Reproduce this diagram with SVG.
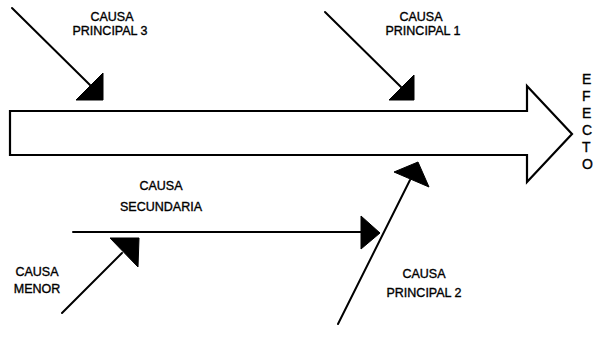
<svg xmlns="http://www.w3.org/2000/svg" width="597" height="339" viewBox="0 0 597 339">
<style>
.lbl{font-family:"Liberation Sans",Arial,sans-serif;font-size:12.5px;fill:#000;stroke:#000;stroke-width:0.35;text-anchor:middle}
.eff{font-family:"Liberation Sans",Arial,sans-serif;font-size:14px;fill:#000;stroke:#000;stroke-width:0.35}
.ln{stroke:#000;stroke-width:2;fill:none;stroke-linecap:round}
.hd{fill:#000;stroke:#000;stroke-width:1;stroke-linejoin:round}
</style>
<rect width="597" height="339" fill="#fff"/>
<g id="efecto">
<polygon points="10,111 527,111 527,86 572,134 527,182 527,155 10,155" fill="#fff" stroke="#000" stroke-width="2.2" stroke-linejoin="miter"/>
<text class="eff" x="582" y="84">E</text>
<text class="eff" x="582" y="101">F</text>
<text class="eff" x="582" y="118">E</text>
<text class="eff" x="582" y="135">C</text>
<text class="eff" x="582" y="152">T</text>
<text class="eff" x="582" y="169">O</text>
</g>
<g id="causa-principal-3">
<text class="lbl" x="112" y="21">CAUSA</text>
<text class="lbl" x="110" y="35">PRINCIPAL 3</text>
</g>
<g id="causa-principal-1">
<text class="lbl" x="421" y="21">CAUSA</text>
<text class="lbl" x="423" y="35">PRINCIPAL 1</text>
</g>
<g id="causa-secundaria">
<text class="lbl" x="161" y="190">CAUSA</text>
<text class="lbl" x="161" y="211">SECUNDARIA</text>
</g>
<g id="causa-menor">
<text class="lbl" x="37" y="276">CAUSA</text>
<text class="lbl" x="37" y="293">MENOR</text>
</g>
<g id="causa-principal-2">
<text class="lbl" x="424" y="278">CAUSA</text>
<text class="lbl" x="424" y="297">PRINCIPAL 2</text>
</g>
<g id="connectors">
<line class="ln" x1="12" y1="8" x2="90" y2="85"/>
<polygon class="hd" points="103,73 76,100 103,100"/>
<line class="ln" x1="325" y1="12" x2="401" y2="87"/>
<polygon class="hd" points="414,75 389,100 414,100"/>
<line class="ln" x1="338" y1="324" x2="410" y2="180"/>
<polygon class="hd" points="394,172 418,162 429,187"/>
<line class="ln" x1="73" y1="232" x2="362" y2="232"/>
<polygon class="hd" points="361,216 380,233 361,249"/>
<line class="ln" x1="62" y1="313" x2="122" y2="253"/>
<polygon class="hd" points="110,238 139,238 138,267"/>
</g>
</svg>
